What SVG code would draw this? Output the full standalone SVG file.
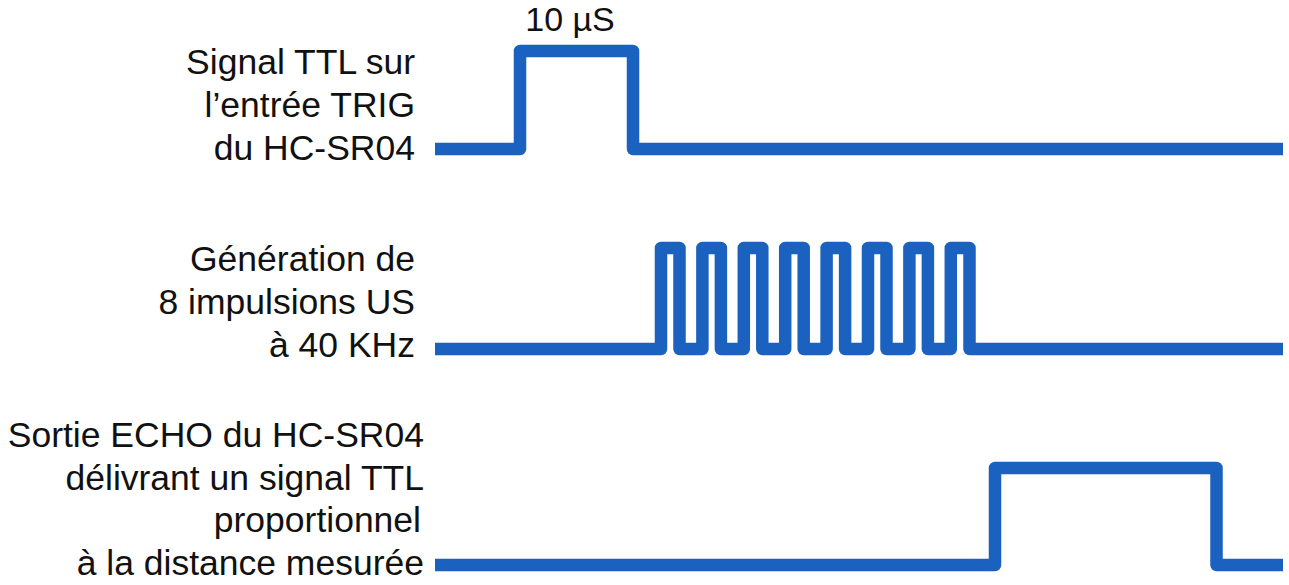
<svg xmlns="http://www.w3.org/2000/svg" width="1289" height="585" viewBox="0 0 1289 585">
  <style>
    .lbl { font-family: "Liberation Sans", Arial, sans-serif; font-size: 35.5px; fill: #111111; }
    .end { text-anchor: end; }
    .sig { fill: none; stroke: #1b62c0; stroke-width: 12.5; stroke-linejoin: round; stroke-linecap: butt; }
  </style>
  <rect x="0" y="0" width="1289" height="585" fill="#ffffff"/>

  <g id="label-trig">
    <text class="lbl end" x="415" y="74">Signal TTL sur</text>
    <text class="lbl end" x="415" y="117">l’entrée TRIG</text>
    <text class="lbl end" x="415" y="160">du HC-SR04</text>
  </g>

  <g id="label-pulse-width">
    <text class="lbl" x="570" y="31" text-anchor="middle" style="font-size:34px">10 µS</text>
  </g>

  <g id="label-burst">
    <text class="lbl end" x="415" y="271">Génération de</text>
    <text class="lbl end" x="415" y="314">8 impulsions US</text>
    <text class="lbl end" x="415" y="357">à 40 KHz</text>
  </g>

  <g id="label-echo">
    <text class="lbl end" x="424" y="447">Sortie ECHO du HC-SR04</text>
    <text class="lbl end" x="424" y="490">délivrant un signal TTL</text>
    <text class="lbl end" x="421" y="532">proportionnel</text>
    <text class="lbl end" x="424" y="575">à la distance mesurée</text>
  </g>

  <g id="signals">
    <path id="sig-trig" class="sig" d="M435,149 H520 V51 H633 V149 H1283"/>
    <path id="sig-burst" class="sig" d="M435,349 H661 V248 H679.5 V349 H702.4 V248 H720.9 V349 H743.8 V248 H762.3 V349 H785.2 V248 H803.7 V349 H826.6 V248 H845.1 V349 H868 V248 H886.5 V349 H909.4 V248 H927.9 V349 H950.8 V248 H969.5 V349 H1283"/>
    <path id="sig-echo" class="sig" d="M435,565 H995 V468 H1216.5 V565 H1283"/>
  </g>
</svg>
